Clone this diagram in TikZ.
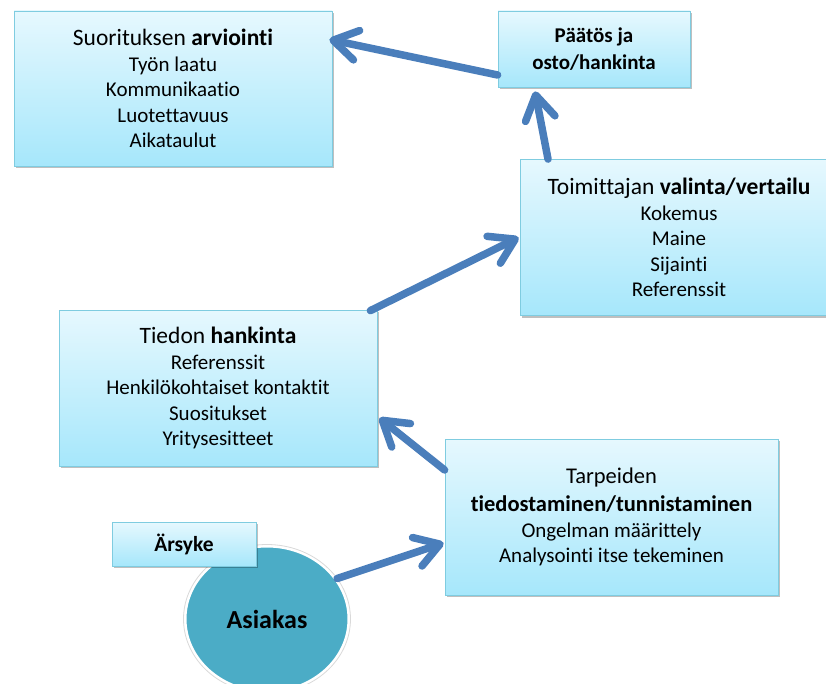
\documentclass[tikz,border=0pt]{standalone}
\usepackage{fontspec}
\setmainfont[Ligatures=NoCommon]{Carlito}
\usetikzlibrary{arrows.meta,shadows,calc,shapes.geometric}
\definecolor{boxtop}{HTML}{E6F8FE}
\definecolor{boxbot}{HTML}{A6E7FB}
\definecolor{boxline}{HTML}{7FCCE0}
\definecolor{arrowblue}{HTML}{4A7EBB}
\definecolor{custfill}{HTML}{4BACC6}
\tikzset{
  infobox/.style={rectangle, draw=boxline, line width=0.8pt, top color=boxtop, bottom color=boxbot,
    align=center, inner sep=0pt, font=\fontsize{21}{25.5}\selectfont,
    drop shadow={shadow xshift=2pt, shadow yshift=-2pt, fill=black, opacity=0.25}},
  flowarrow/.style={draw=arrowblue, line width=7.5pt, line cap=round,
    -{Straight Barb[round, length=24pt, width=30pt, line width=7.5pt]}}
}
\newcommand{\boxtitle}{\fontsize{23.5}{25.5}\selectfont}
\begin{document}
\begin{tikzpicture}[x=1pt,y=-1pt]
\useasboundingbox (0,0) rectangle (826,684);
\clip (0,0) rectangle (826,684);

\node[infobox, minimum width=318pt, minimum height=155pt] (b1) at (173,88.5)
  {{\boxtitle Suorituksen \textbf{arviointi}}\\Työn laatu\\Kommunikaatio\\Luotettavuus\\Aikataulut};
\node[infobox, minimum width=192pt, minimum height=76pt, font=\fontsize{21}{27}\selectfont\bfseries] (b2) at (594,49)
  {Päätös ja\\osto/hankinta};
\node[infobox, minimum width=318pt, minimum height=156pt] (b3) at (679,237.5)
  {{\boxtitle Toimittajan \textbf{valinta/vertailu}}\\Kokemus\\Maine\\Sijainti\\Referenssit};
\node[infobox, minimum width=318pt, minimum height=156pt] (b4) at (218,388)
  {{\boxtitle Tiedon \textbf{hankinta}}\\Referenssit\\Henkilökohtaiset kontaktit\\Suositukset\\Yritysesitteet};
\node[infobox, minimum width=333pt, minimum height=156pt] (b5) at (611.5,517)
  {{\fontsize{22.5}{28}\selectfont Tarpeiden}\\[3pt]{\fontsize{22.5}{27}\selectfont\bfseries tiedostaminen/tunnistaminen}\\Ongelman määrittely\\Analysointi itse tekeminen};

\node[ellipse, minimum width=164pt, minimum height=146pt, fill=custfill, draw=white, line width=3pt,
  font=\fontsize{26}{30}\selectfont\bfseries, text=black] (cust) at (267,619) {Asiakas};
\draw[black!15, line width=0.8pt] (cust.center) ellipse [x radius=83.5pt, y radius=74.5pt];

\node[infobox, minimum width=144pt, minimum height=44pt, font=\fontsize{21.5}{24}\selectfont\bfseries] (b6) at (184,544)
  {Ärsyke};

\draw[flowarrow] ([yshift=-26pt]b2.west) -- ([xshift=-3pt,yshift=49pt]b1.east);
\draw[flowarrow] ([xshift=-131pt]b3.north) -- ([xshift=-59pt,yshift=-4pt]b2.south);
\draw[flowarrow] ([xshift=-7pt,yshift=-1pt]b4.north east) -- ([xshift=-1pt]b3.west);
\draw[flowarrow] ([yshift=47pt]b5.west) -- ([xshift=2pt,yshift=-30pt]b4.east);
\draw[flowarrow] (cust.30) -- ([xshift=-1pt,yshift=-26pt]b5.west);
\end{tikzpicture}
\end{document}
